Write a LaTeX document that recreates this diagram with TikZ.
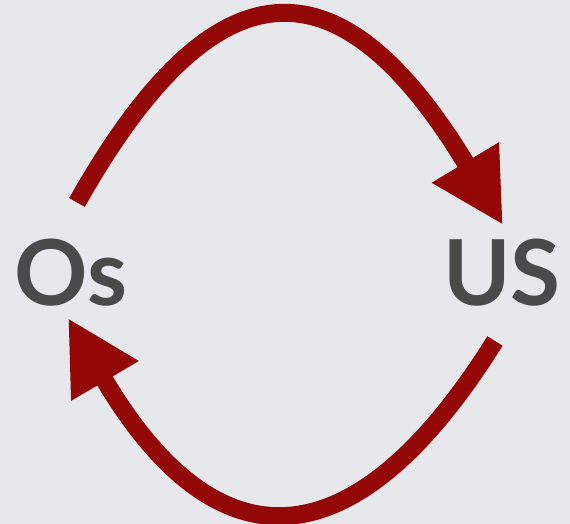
\documentclass[tikz,border=0pt]{standalone}
\usepackage{fontspec}
\setmainfont{Lato}
\usetikzlibrary{arrows.meta}
\definecolor{bg}{RGB}{231,232,236}
\definecolor{arr}{RGB}{147,7,7}
\definecolor{txt}{RGB}{74,74,74}
\begin{document}
\begin{tikzpicture}[x=1pt,y=1pt,
  lbl/.style={text=txt,font=\bfseries\fontsize{91}{91}\selectfont,anchor=base,inner sep=0pt},
  flow/.style={draw=arr,line width=18pt,-{Triangle[length=73pt,width=73pt]}}]
\fill[bg] (0,0) rectangle (570,524);
\useasboundingbox (0,0) rectangle (570,524);
\node[lbl] (os) at (71,218) {Os};
\node[lbl] (us) at (502,218) {US};
\coordinate (a1) at (77,321.5);
\coordinate (a2) at (503,299);
\coordinate (b1) at (495,183);
\coordinate (b2) at (68,206);
\draw[flow] (a1) .. controls (216,568) and (341,568) .. (a2);
\draw[flow] (b1) .. controls (353,-44.2) and (215,-44.2) .. (b2);
\end{tikzpicture}
\end{document}
